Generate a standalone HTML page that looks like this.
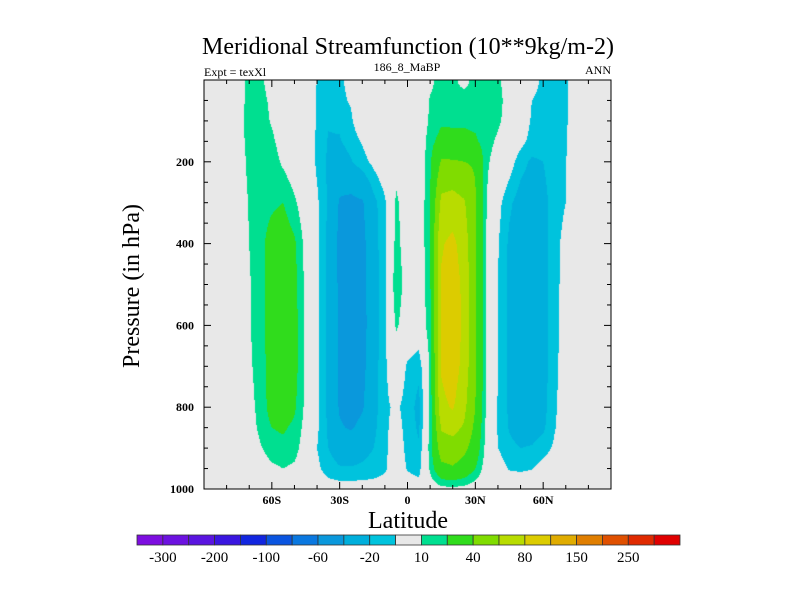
<!DOCTYPE html>
<html><head><meta charset="utf-8"><style>
body{margin:0;background:#fff;width:800px;height:600px;overflow:hidden;position:relative;font-family:"Liberation Serif",serif}
svg{position:absolute;left:0;top:0}
</style></head><body>
<canvas id="cv" width="407" height="409" style="position:absolute;left:204px;top:80px"></canvas>
<svg id="sv" width="800" height="600"></svg>
<script>
const lats=[-90,-85,-80,-75,-70,-65,-60,-55,-50,-45,-40,-35,-30,-25,-20,-15,-10,-5,0,5,10,15,20,25,30,35,40,45,50,55,60,65,70,75,80,85,90];
const pres=[0,10,50,100,150,200,300,400,500,600,700,800,850,900,950,1000];
const r10=[0,0,0,5,13,12,6,2,0,0,-10.5,-11.7,-11.3,-8,0,0,0,0,0,0,8,14,12,8,13,14,12,5,0,-8,-11.3,-11.7,-11,-6,0,0,0];
const r50=[0,0,0,4,14,13,8,2,0,0,-10.7,-12.7,-12,-9,0,0,0,0,0,0,11,15,15,14,15,15,13,6,0,-10,-11.7,-12,-11,-6,0,0,0];
const r100=[0,0,0,5,15,14,9,3,0,0,-11.3,-19,-18,-11.5,-2,0,0,0,0,0,12,18,18,18,17,16,12,5,-2,-11.3,-12.7,-12.3,-11,-5,0,0,0];
const r150=[0,0,0,4,14,16,12,5,0,0,-12,-21,-21,-15,-9,-2,0,0,0,0,16,25,24,24,22,14,8,2,-6,-14,-14,-12.7,-10.7,-4,0,0,0];
const r200=[0,0,0,3,13,17,15,8,2,0,-12,-22,-28,-21,-14,-7,0,6,0,0,18,42,42,40,38,12,4,-4,-16,-22,-20,-14,-10.3,-4,0,0,0];
const r300=[0,0,0,2,11,16,18,20,12,2,-8,-22,-42,-45,-42,-24,-12,12,3,0,20,65,68,62,42,10,-6,-18,-25,-27,-24,-15,-10,-3,0,0,0];
const r400=[0,0,0,2,10,17,25,28,22,6,-7,-23,-45,-50,-46,-26,-12,14,3,0,20,78,85,70,42,9,-9,-22,-27,-28,-25,-14,-6,-1,0,0,0];
const r500=[0,0,0,2,9,16,26,32,24,7,-7,-23,-44,-50,-47,-27,-12,18,3,0,18,82,92,74,42,8,-10,-23,-27,-28,-25,-14,-5,0,0,0,0];
const r600=[0,0,0,2,9,16,26,32,25,8,-7,-23,-43,-50,-48,-27,-12,12,2,0,16,82,95,75,42,8,-10,-23,-27,-28,-25,-14,-4,0,0,0,0];
const r700=[0,0,0,1,8,15,26,32,25,8,-7,-23,-42,-50,-46,-26,-12,0,-11.7,-16.7,12,82,92,72,42,8,-10,-23,-27,-28,-25,-13,-4,0,0,0,0];
const r800=[0,0,0,0,6,14,25,30,22,7,-7,-23,-42,-48,-42,-25,-12,-8,-14,-24,12,75,82,65,40,8,-11,-22,-27,-27,-24,-12,-3,0,0,0,0];
const r850=[0,0,0,0,4,13,20,22,17,6,-8,-22,-38,-42,-35,-23,-12,-6,-13.3,-22,14,62,66,58,35,6,-11,-21,-26,-26,-22,-11,-2,0,0,0,0];
const r900=[0,0,0,0,2,9,15,16,14,4,-10,-20,-26,-28,-24,-20,-12,-4,-12.7,-18.3,15,50,52,45,30,5,-10,-17,-20,-19,-15,-8,0,0,0,0,0];
const r950=[0,0,0,0,0,4,8,10,8,2,-7,-16,-19,-19,-18,-16,-12,-2,-11,-14,12,35,38,32,20,3,-4,-11,-12,-10.5,-5,-2,0,0,0,0,0];
const r1000=[0,0,0,0,0,0,0,0,0,0,0,-3,-4,-4,-4,-4,-3,0,-3,-5,2,6,7,6,3,0,0,0,0,0,0,0,0,0,0,0,0];
const rows=[r10,r10,r50,r100,r150,r200,r300,r400,r500,r600,r700,r800,r850,r900,r950,r1000];
const levels=[-300,-250,-200,-150,-100,-80,-60,-40,-20,-10,10,20,40,60,80,100,150,200,250,300];
const barLabels=["-300","-200","-100","-60","-20","10","40","80","150","250"];
const colors=["#7d0ee0","#6c12e0","#5a14e0","#3a16e0","#1226e0","#0a55e0","#0a78e0","#0a98dc","#00afdc","#00c3dd","#e8e8e8","#00df90","#30dc1c","#80dc00","#b8dc00","#dccc00","#e0ac00","#e07e00","#e05000","#e02a00","#e00000"];
const xTickVals=[-60,-30,0,30,60];const xTickLabels=["60S","30S","0","30N","60N"];
const yTickVals=[200,400,600,800,1000];
const X0=204,X1=611,Y0=80,Y1=489;
const xs=l=>X0+(l+90)/180*(X1-X0), ys=p=>Y0+p/1000*(Y1-Y0);
function val(lat,p){
 let i=Math.min(lats.length-2,Math.max(0,Math.floor((lat+90)/5)));
 let fx=(lat-lats[i])/5;
 let j=0;while(j<pres.length-2&&p>pres[j+1])j++;
 let fy=(p-pres[j])/(pres[j+1]-pres[j]);
 const a=rows[j][i],b=rows[j][i+1],c=rows[j+1][i],d=rows[j+1][i+1];
 return (a*(1-fx)+b*fx)*(1-fy)+(c*(1-fx)+d*fx)*fy;
}
function col(v){let k=0;while(k<levels.length&&v>=levels[k])k++;return colors[k];}
const cv=document.getElementById('cv'),ctx=cv.getContext('2d');
for(let py=0;py<409;py++){for(let px=0;px<407;px++){
 const lat=(px+0.5)/407*180-90,p=(py+0.5)/409*1000;
 ctx.fillStyle=col(val(lat,p));ctx.fillRect(px,py,1,1);}}
const NS='http://www.w3.org/2000/svg',sv=document.getElementById('sv');
function el(t,a,txt){const e=document.createElementNS(NS,t);for(const k in a)e.setAttribute(k,a[k]);if(txt!==undefined)e.textContent=txt;sv.appendChild(e);return e;}
let f=el('rect',{x:X0,y:Y0,width:X1-X0,height:Y1-Y0,fill:'none',stroke:'#000','stroke-width':1});


for(let l=-80;l<=80;l+=10){const maj=l%30===0;const L=maj?7:4;
 let t=el('line',{x1:xs(l),x2:xs(l),y1:Y1,y2:Y1-L,stroke:'#000'});
 
 
 let t2=el('line',{x1:xs(l),x2:xs(l),y1:Y0,y2:Y0+L,stroke:'#000'});
 
 }
for(let p=50;p<1000;p+=50){const maj=p%200===0;const L=maj?7:4;
 let t=el('line',{x1:X0,x2:X0+L,y1:ys(p),y2:ys(p),stroke:'#000'});
 
 
 let t2=el('line',{x1:X1,x2:X1-L,y1:ys(p),y2:ys(p),stroke:'#000'});
 
 }
xTickVals.forEach((v,i)=>{let t=el('text',{x:xs(v),y:504,'font-size':12,'font-weight':'bold','text-anchor':'middle'},xTickLabels[i]);
 
 });
yTickVals.forEach(v=>{let t=el('text',{x:X0-10,y:ys(v)+4,'font-size':12,'font-weight':'bold','text-anchor':'end'},String(v));
 
 });
const BX=137,BW=(680-137)/21;
colors.forEach((c,i)=>{let r=el('rect',{x:BX+i*BW,y:535,width:BW,height:10,fill:c,stroke:'#333','stroke-width':0.8});
 
 });
barLabels.forEach((s,i)=>{let t=el('text',{x:BX+(2*i+1)*BW,y:562,'font-size':15,'text-anchor':'middle'},s);
 
 });
</script>
<svg width="800" height="600" style="position:absolute;left:0;top:0">
<text x="408" y="54" font-size="24" text-anchor="middle">Meridional Streamfunction (10**9kg/m-2)</text>
<text x="204" y="76" font-size="12">Expt = texXl</text>
<text x="407" y="71" font-size="12" text-anchor="middle">186_8_MaBP</text>
<text x="611" y="74" font-size="12" text-anchor="end">ANN</text>
<text x="408" y="528" font-size="24" text-anchor="middle">Latitude</text>
<text transform="translate(139,286) rotate(-90)" font-size="24" text-anchor="middle">Pressure (in hPa)</text>
</svg>
</body></html>
